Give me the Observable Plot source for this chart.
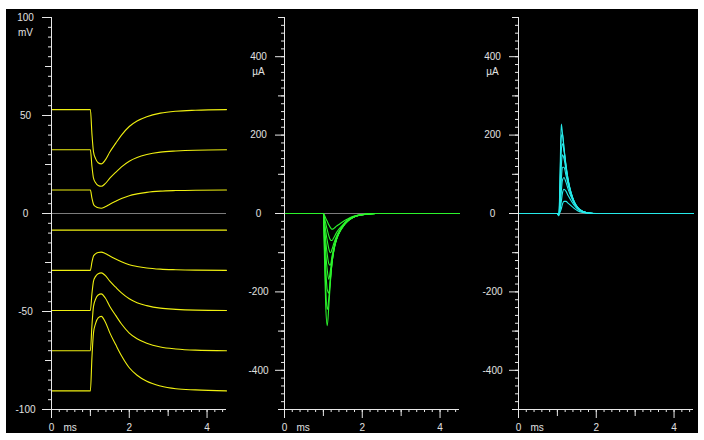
<!DOCTYPE html>
<html><head><meta charset="utf-8">
<script src="https://cdn.jsdelivr.net/npm/d3@7"></script>
<script src="https://cdn.jsdelivr.net/npm/@observablehq/plot@0.6"></script>
<style>
html,body{margin:0;padding:0;background:#fff;}
#stage{position:absolute;left:6px;top:9px;width:692px;height:424px;background:#000;}
#stage svg{position:absolute;top:0;}
</style></head><body><div id="stage"></div>
<script>
// ---- Data ----
// Panel 1: membrane voltage traces (mV) vs time (ms)
const tVolt = [0, 1.0, 1.04, 1.08, 1.13, 1.2, 1.28, 1.38, 1.5, 1.65, 1.8, 2.0, 2.2, 2.45, 2.8, 3.2, 3.7, 4.5];
const volt1 = [53, 53, 40.5, 31.4, 28.1, 25.9, 25.3, 27.2, 31.4, 35.8, 40.0, 44.4, 47.2, 49.4, 51.2, 52.2, 52.7, 53];
const volt2 = [32.5, 32.5, 24.1, 18.0, 15.8, 14.3, 13.9, 15.2, 18.0, 21.0, 23.8, 26.7, 28.6, 30.1, 31.3, 31.9, 32.3, 32.5];
const volt3 = [12, 12, 7.8, 4.7, 3.6, 2.9, 2.7, 3.4, 4.7, 6.2, 7.6, 9.1, 10.0, 10.8, 11.4, 11.7, 11.9, 12];
const volt4 = [-8.5, -8.5, -8.5, -8.5, -8.5, -8.5, -8.5, -8.5, -8.5, -8.5, -8.5, -8.5, -8.5, -8.5, -8.5, -8.5, -8.5, -8.5];
const volt5 = [-29, -29, -24.8, -21.7, -20.6, -19.9, -19.7, -20.4, -21.7, -23.2, -24.6, -26.1, -27.0, -27.8, -28.4, -28.7, -28.9, -29];
const volt6 = [-49.5, -49.5, -40.9, -34.5, -32.2, -30.7, -30.3, -31.6, -34.5, -37.6, -40.5, -43.5, -45.5, -47.0, -48.3, -48.9, -49.3, -49.5];
const volt7 = [-70, -70, -57.0, -47.4, -43.9, -41.6, -41.0, -43.0, -47.4, -52.0, -56.4, -61.0, -63.9, -66.2, -68.1, -69.1, -69.7, -70];
const volt8 = [-90.5, -90.5, -73.4, -60.9, -56.3, -53.3, -52.5, -55.2, -60.9, -66.9, -72.6, -78.7, -82.5, -85.6, -88.0, -89.4, -90.0, -90.5];

// Panel 2: inward current traces (µA)
const tInward = [0, 1.0, 1.03, 1.06, 1.1, 1.14, 1.18, 1.22, 1.27, 1.33, 1.4, 1.5, 1.62, 1.75, 1.9, 2.1, 2.35, 4.5];
const inward1 = [0, 0, -5, -12, -20, -29, -36, -40, -38, -33, -28, -21, -14, -8, -4, -1.5, 0, 0];
const inward2 = [0, 0, -12, -25, -42, -57, -67, -69, -61, -50, -40, -29, -18, -10, -5, -2, 0, 0];
const inward3 = [0, 0, -22, -45, -70, -90, -100, -92, -76, -60, -46, -32, -20, -11, -5, -2, 0, 0];
const inward4 = [0, 0, -35, -70, -105, -128, -132, -110, -87, -67, -50, -34, -20, -11, -5, -2, 0, 0];
const inward5 = [0, 0, -50, -100, -145, -168, -145, -118, -90, -68, -51, -34, -20, -11, -5, -2, 0, 0];
const inward6 = [0, 0, -70, -140, -195, -203, -165, -127, -94, -69, -51, -33, -19, -10, -5, -1.5, 0, 0];
const inward7 = [0, 0, -95, -190, -245, -215, -170, -128, -94, -68, -50, -32, -18, -10, -4.5, -1.5, 0, 0];
const inward8 = [0, 0, -120, -235, -286, -235, -175, -128, -92, -66, -48, -30, -17, -9, -4, -1.5, 0, 0];

// Panel 3: outward current traces (µA)
const tOutward = [0, 1.0, 1.02, 1.04, 1.07, 1.1, 1.13, 1.17, 1.22, 1.28, 1.35, 1.43, 1.52, 1.62, 1.72, 1.85, 2.0, 4.5];
const outward1 = [0, 0, 0, -1, 4, 12, 24, 31, 31, 26, 20, 13, 7, 3, 1.5, 0.3, 0, 0];
const outward2 = [0, 0, -1, -2, 10, 30, 52, 62, 57, 45, 33, 21, 11, 5, 2, 0.5, 0, 0];
const outward3 = [0, 0, -1, -2, 18, 55, 85, 92, 80, 61, 43, 26, 14, 6, 2.5, 0.5, 0, 0];
const outward4 = [0, 0, -2, -3, 30, 85, 118, 118, 98, 72, 49, 29, 15, 7, 3, 0.5, 0, 0];
const outward5 = [0, 0, -2, -4, 45, 120, 150, 140, 112, 80, 53, 31, 16, 7, 3, 0.5, 0, 0];
const outward6 = [0, 0, -3, -5, 65, 160, 178, 160, 122, 84, 54, 31, 16, 7, 3, 0.5, 0, 0];
const outward7 = [0, 0, -3, -5, 85, 195, 203, 168, 125, 84, 53, 30, 15, 7, 3, 0.5, 0, 0];
const outward8 = [0, 0, -4, -6, 110, 228, 205, 165, 120, 80, 50, 28, 14, 6, 2.5, 0.5, 0, 0];

// Axes
const xDomain = [0, 4.5];
const xLabelTicks = [0, 2, 4];
const xMidTicks = [1, 3];
const xMinorStep = 0.2;
const mvDomain = [-100, 100];
const mvLabelTicks = [-100, -50, 0, 50, 100];
const mvMidTicks = [-75, -25, 25, 75];
const mvMinorStep = 5;
const uaDomain = [-500, 500];
const uaLabelTicks = [-400, -200, 0, 200, 400];
const uaMidTicks = [-500, -300, -100, 100, 300, 500];
const uaMinorStep = 20;

// ---- Styling ----
const AXIS = "#e8e8e8";
const TEXT = "#e0e0e0";
const FONT = "'Liberation Sans', Arial, sans-serif";

function panel({times, traces, color, yDomain, yLabels, yMid, yStep, unit, unitAt}) {
  const data = traces.flatMap((vals, k) => vals.map((v, i) => ({t: times[i], v, k})));
  const yMinor = d3.range(yDomain[0], yDomain[1] + yStep / 2, yStep);
  const xMinor = d3.range(xDomain[0], xDomain[1] + 1e-9, xMinorStep);
  const common = {stroke: AXIS, label: null};
  return Plot.plot({
    width: 233, height: 424,
    marginLeft: 45, marginRight: 13, marginTop: 8, marginBottom: 24,
    style: {background: "transparent", color: TEXT, fontFamily: FONT, fontSize: "10px", overflow: "visible"},
    x: {domain: xDomain},
    y: {domain: yDomain},
    marks: [
      Plot.ruleY([0], {stroke: "#7c7c7c"}),
      Plot.line(data, {x: "t", y: "v", z: "k", stroke: color, strokeWidth: 1.1, curve: "monotone-x"}),
      Plot.ruleX([0], {stroke: AXIS}),
      Plot.ruleY([yDomain[0]], {stroke: AXIS}),
      Plot.axisY(yMinor, {...common, tickSize: 3, fill: "none"}),
      Plot.axisY(yMid, {...common, tickSize: 6, fill: "none"}),
      Plot.axisY(yLabels, {...common, tickSize: 9, tickPadding: 17, textAnchor: "middle", fill: TEXT, tickFormat: d => String(d)}),
      Plot.axisX(xMinor, {...common, tickSize: 3, fill: "none"}),
      Plot.axisX(xMidTicks, {...common, tickSize: 7, fill: "none"}),
      Plot.axisX(xLabelTicks, {...common, tickSize: 9, tickPadding: 5, fill: TEXT, tickFormat: d => String(d)}),
      Plot.text([{x: 0, y: unitAt, label: unit}], {x: "x", y: "y", text: "label", dx: -26, dy: 15, textAnchor: "middle", fill: TEXT}),
      Plot.text([{x: 0, y: yDomain[0], label: "ms"}], {x: "x", y: "y", text: "label", dx: 12, dy: 14, textAnchor: "start", lineAnchor: "top", fill: TEXT})
    ]
  });
}

const stage = document.getElementById("stage");
const panels = [
  {left: 0, times: tVolt, traces: [volt1, volt2, volt3, volt4, volt5, volt6, volt7, volt8], color: "#f0f010",
   yDomain: mvDomain, yLabels: mvLabelTicks, yMid: mvMidTicks, yStep: mvMinorStep, unit: "mV", unitAt: 100},
  {left: 233, times: tInward, traces: [inward1, inward2, inward3, inward4, inward5, inward6, inward7, inward8], color: "#2cf42c",
   yDomain: uaDomain, yLabels: uaLabelTicks, yMid: uaMidTicks, yStep: uaMinorStep, unit: "µA", unitAt: 400},
  {left: 467, times: tOutward, traces: [outward1, outward2, outward3, outward4, outward5, outward6, outward7, outward8], color: "#26eaea",
   yDomain: uaDomain, yLabels: uaLabelTicks, yMid: uaMidTicks, yStep: uaMinorStep, unit: "µA", unitAt: 400}
];
for (const p of panels) {
  const svg = panel(p);
  svg.style.left = p.left + "px";
  stage.appendChild(svg);
}
</script>
</body></html>
